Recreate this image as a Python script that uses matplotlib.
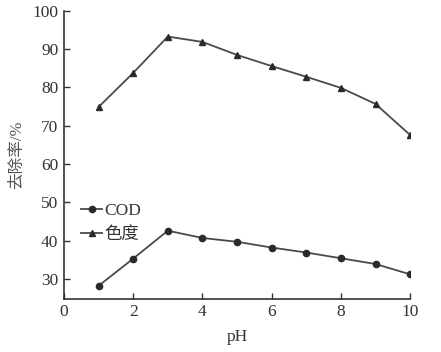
import matplotlib
matplotlib.use("Agg")
import matplotlib.pyplot as plt

plt.rcParams['font.family'] = ['Liberation Serif', 'Noto Sans CJK SC']

# data
ph = [1, 2, 3, 4, 5, 6, 7, 8, 9, 10]
cod = [28.2, 35.3, 42.6, 40.7, 39.7, 38.2, 36.9, 35.4, 33.9, 31.2]
color_removal = [74.9, 83.8, 93.3, 91.9, 88.5, 85.6, 82.8, 79.9, 75.7, 67.6]
x_ticks = [0, 2, 4, 6, 8, 10]
y_ticks = [30, 40, 50, 60, 70, 80, 90, 100]

fig = plt.figure(figsize=(4.41, 3.52), dpi=100)
ax = fig.add_axes([0.145, 0.151, 0.785, 0.818])

line_col = '#4a4a4a'
ax.plot(ph, cod, color=line_col, lw=1.3, marker='o', ms=4.5,
        mfc='#2a2a2a', mec='#2a2a2a', label='COD')
ax.plot(ph, color_removal, color=line_col, lw=1.3, marker='^', ms=5,
        mfc='#2a2a2a', mec='#2a2a2a', label='色度')

ax.set_xlim(0, 10)
ax.set_ylim(24.8, 100)
ax.set_xticks(x_ticks)
ax.set_yticks(y_ticks)
ax.tick_params(direction='in', length=4, width=1, labelsize=12.5,
               colors='#333333', pad=4)
for s in ['top', 'right']:
    ax.spines[s].set_visible(False)
for s in ['left', 'bottom']:
    ax.spines[s].set_color('#333333')
    ax.spines[s].set_linewidth(1.2)

ax.set_xlabel('pH', fontsize=12.5, color='#333333', labelpad=6)
ax.set_ylabel('去除率/%', fontsize=12, color='#555555', labelpad=5)

leg = ax.legend(loc='upper left', bbox_to_anchor=(0.02, 0.37), frameon=False,
                handlelength=1.2, handletextpad=0.1, labelspacing=0.45,
                borderaxespad=0.2, fontsize=12.5)
for t in leg.get_texts():
    t.set_color('#333333')

fig.savefig('out.png', dpi=100)
